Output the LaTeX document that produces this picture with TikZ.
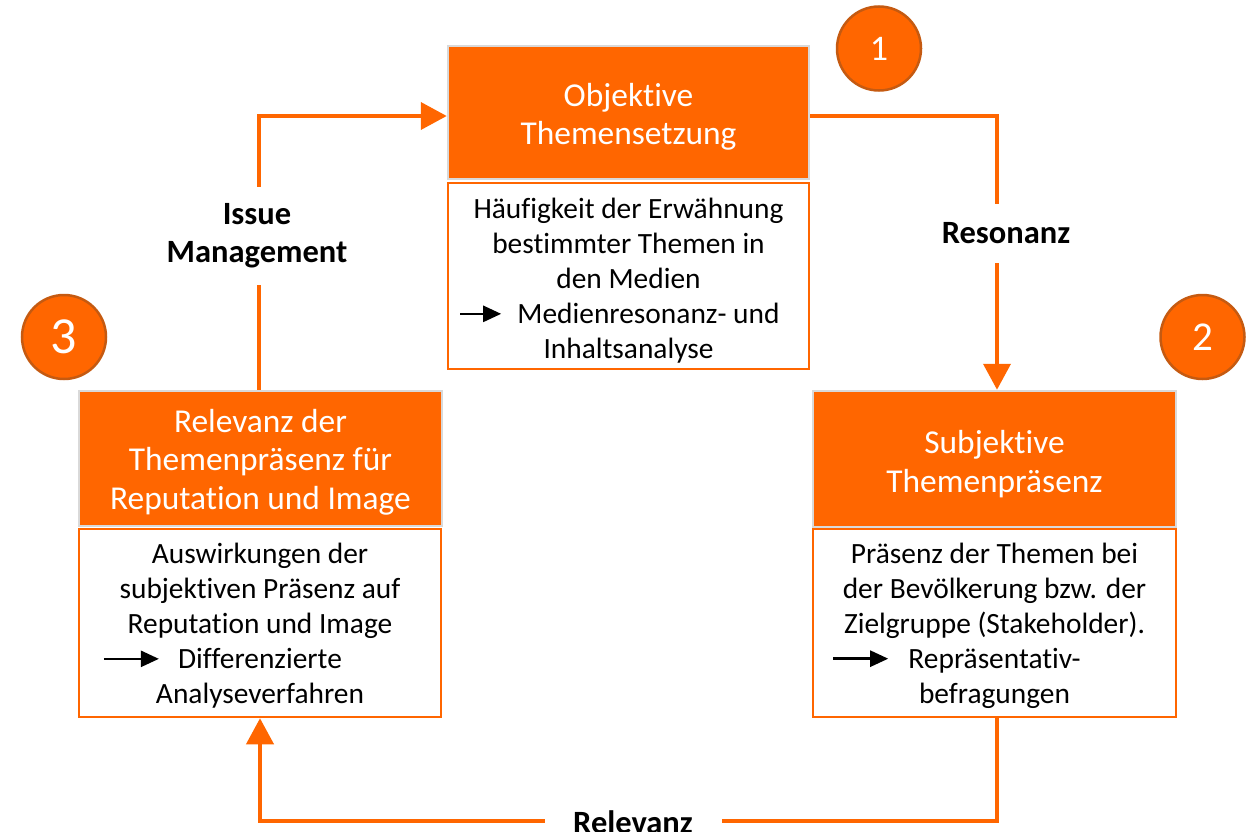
\documentclass[tikz,border=0pt]{standalone}
\usepackage{fontspec}
\setmainfont{Carlito}[Ligatures={NoCommon,NoContextual}]
\usetikzlibrary{arrows.meta,calc}
\definecolor{orng}{HTML}{FF6600}
\definecolor{orngdark}{HTML}{C55A11}
\definecolor{edgegray}{HTML}{D9D9D9}
\newcommand{\inarr}[1]{\tikz[baseline={(0pt,-10pt)}]\draw[black,line width=2.5pt,-{Triangle[length=18pt,width=16pt]}] (0pt,0pt)--(#1,0pt);}
\tikzset{
  titlebox/.style={draw=edgegray,line width=2.5pt,fill=orng,inner sep=0pt},
  titletext/.style={text=white,align=center,inner sep=0pt,font=\fontsize{33.4}{38.5}\selectfont},
  detailbox/.style={draw=orng,line width=2.5pt,fill=white,inner sep=0pt},
  detailtext/.style={text=black,align=center,inner sep=0pt,font=\fontsize{29.4}{35}\selectfont},
  conn/.style={draw=orng,line width=4pt},
  tip/.style={-{Triangle[length=26pt,width=27pt]}},
  lab/.style={fill=white,text=black,align=center,inner sep=0pt,font=\bfseries\fontsize{32.5}{38}\selectfont},
  numcircle/.style={circle,draw=orngdark,line width=2.5pt,fill=orng,text=white,minimum size=84pt,inner sep=0pt}
}
\begin{document}
\begin{tikzpicture}[x=1pt,y=1pt]
\useasboundingbox (0,0) rectangle (1258,-832);
% boxes
\node[titlebox,minimum width=361pt,minimum height=133pt] (t1) at (628.5,-112.5) {};
\node[titletext] (t1x) at ([yshift=-4.5pt]t1.center) {Objektive\\Themensetzung};
\node[detailbox,minimum width=361pt,minimum height=186pt] (d1) at (628.5,-276) {};
\node[detailtext] (d1x) at ([yshift=-5pt]d1.center) {H\"aufigkeit der Erw\"ahnung\\bestimmter Themen in\\den Medien\\\hspace*{40pt}\llap{\inarr{41pt}\hspace{15pt}}Medienresonanz- und\\Inhaltsanalyse};
\node[titlebox,minimum width=363pt,minimum height=136pt] (t2) at (994.5,-459) {};
\node[titletext] (t2x) at ([yshift=-5pt]t2.center) {Subjektive\\Themenpr\"asenz};
\node[detailbox,minimum width=363pt,minimum height=188pt] (d2) at (994.5,-623) {};
\node[detailtext] (d2x) at ([yshift=-3pt]d2.center) {Pr\"asenz der Themen bei\\der Bev\"olkerung bzw. der\\Zielgruppe (Stakeholder).\\\llap{\inarr{55pt}\hspace{19pt}}Repr\"asentativ-\\befragungen};
\node[titlebox,minimum width=363pt,minimum height=135pt] (t3) at (260.5,-458.5) {};
\node[titletext] (t3x) at ([yshift=-3.5pt]t3.center) {Relevanz der\\Themenpr\"asenz f\"ur\\Reputation und Image};
\node[detailbox,minimum width=362pt,minimum height=188pt] (d3) at (260,-623) {};
\node[detailtext] (d3x) at ([yshift=-3pt]d3.center) {Auswirkungen der\\subjektiven Pr\"asenz auf\\Reputation und Image\\\llap{\inarr{55pt}\hspace{18pt}}Differenzierte\\Analyseverfahren};
% number circles
\node[numcircle,font=\fontsize{36}{40}\selectfont] (c1) at (879,-48.5) {1};
\node[numcircle,font=\fontsize{41}{45}\selectfont] (c2) at (1202.5,-337) {2};
\node[numcircle,font=\fontsize{52}{56}\selectfont] (c3) at (64,-337) {3};
% connectors
\coordinate (bot) at (633,-821);
\draw[conn,tip] ([yshift=-3.5pt]t1.east) -| ([xshift=2.5pt]t2.north);
\draw[conn,tip] ([xshift=2.5pt]d2.south) |- (bot) -| (d3.south);
\draw[conn,tip] ([xshift=-2pt]t3.north) |- ([yshift=-3.5pt]t1.west);
% labels
\node[lab,minimum height=59pt,inner xsep=4pt] (lres) at (1006,-233.5) {Resonanz};
\node[lab,minimum height=98pt,inner xsep=4pt] (liss) at (257,-236) {Issue\\Management};
\node[lab,minimum width=177pt,minimum height=30pt] (lrel) at (633,-822) {Relevanz};
\end{tikzpicture}
\end{document}
